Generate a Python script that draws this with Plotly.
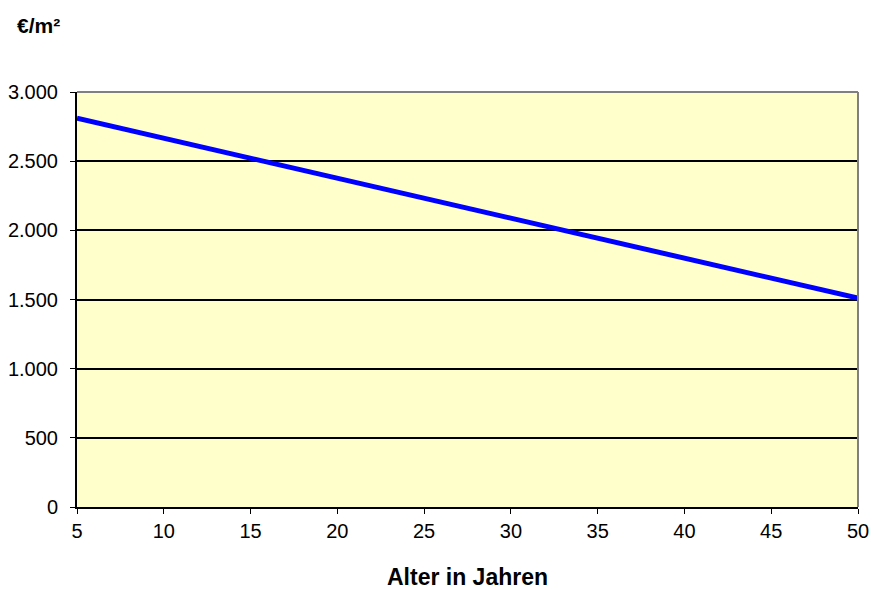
import plotly.graph_objects as go

# Werte
alter = [5, 10, 15, 20, 25, 30, 35, 40, 45, 50]
preis = [2810, 2665, 2520, 2375, 2230, 2085, 1945, 1800, 1655, 1510]

x_ticks = [5, 10, 15, 20, 25, 30, 35, 40, 45, 50]
y_ticks = [0, 500, 1000, 1500, 2000, 2500, 3000]

font = "Liberation Sans, Arial, sans-serif"

fig = go.Figure()
fig.add_trace(go.Scatter(
    x=alter, y=preis, mode="lines",
    line=dict(color="#0000FF", width=5),
    showlegend=False,
))

fig.update_layout(
    width=872, height=590,
    margin=dict(l=77, r=14, t=92, b=83),
    paper_bgcolor="white",
    plot_bgcolor="#FFFFCC",
    separators=",.",
    font=dict(family=font, size=20, color="black"),
)

fig.update_xaxes(
    range=[5, 50], tickvals=x_ticks, automargin=False,
    showgrid=False, zeroline=False,
    showline=True, linecolor="black", linewidth=2,
    ticks="outside", ticklen=5, tickcolor="black",
    title=dict(text="<b>Alter in Jahren</b>", font=dict(size=23), standoff=29),
)
fig.update_yaxes(
    range=[0, 3000], tickvals=y_ticks, tickformat=",d", automargin=False,
    showgrid=True, gridcolor="black", gridwidth=1.5, zeroline=False,
    showline=True, linecolor="black", linewidth=2,
    ticks="outside", ticklen=5, tickcolor="black", ticklabelstandoff=8,
)

# grauer Rahmen oben und rechts
fig.add_shape(type="line", xref="paper", yref="paper", x0=0, x1=1, y0=1, y1=1,
              line=dict(color="#808080", width=2))
fig.add_shape(type="line", xref="paper", yref="paper", x0=1, x1=1, y0=0, y1=1,
              line=dict(color="#808080", width=2))

fig.add_annotation(
    text="<b>€/m²</b>", xref="paper", yref="paper",
    x=-0.0794, y=1.161, xanchor="left", yanchor="middle",
    showarrow=False, font=dict(size=21),
)

# Seitenrand entfernen, damit die Figur genau ins Fenster passt
fig.write_html("out.html", config={"displayModeBar": False},
               post_script="document.body.style.margin='0';")
